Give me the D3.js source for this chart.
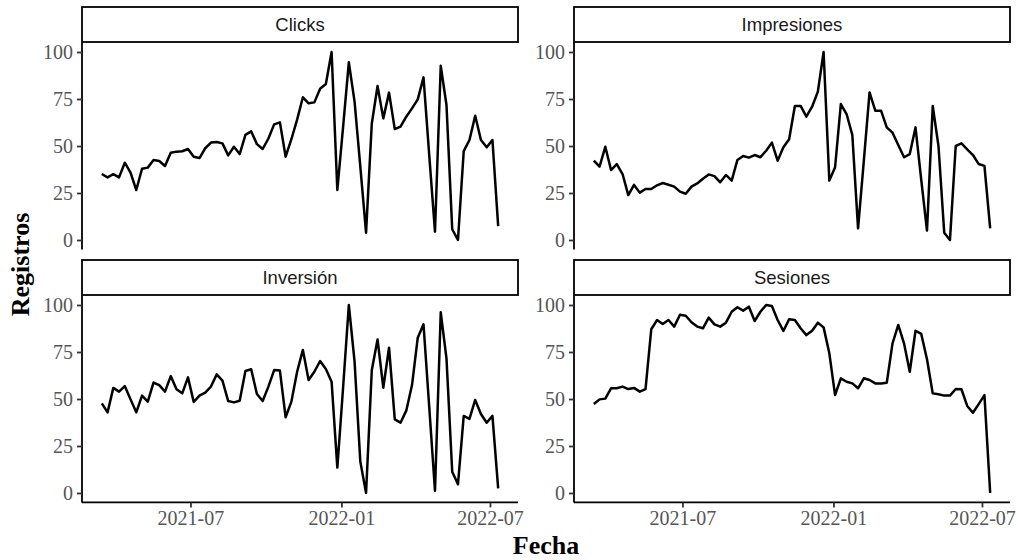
<!DOCTYPE html>
<html>
<head>
<meta charset="utf-8">
<script src="https://cdn.jsdelivr.net/npm/d3@7"></script>
<style>
  html, body { margin: 0; padding: 0; background: #fff; }
  svg { display: block; }
</style>
</head>
<body>
<svg id="chart" width="1018" height="560"></svg>
<script>
// ---- Data (weekly, starting Monday 2021-03-15) ----
const startDate = "2021-03-15";
const nWeeks = 70;
const panelNames = ["Clicks", "Impresiones", "Inversión", "Sesiones"];
const clicks = [35.1,33.3,35,33.3,41.1,35.8,26.6,37.9,38.5,42.5,42,39.4,46.4,47,47.2,48.4,44.3,43.6,48.8,51.8,52.1,51.4,45,49.6,45.7,55.9,57.8,51,48.4,54,61.5,62.6,44.3,53.6,64,75.9,72.7,73.2,80.5,83,100,26.6,60,94.5,73.6,39,3.9,62,81.9,64.7,78.4,59,60.3,65.6,70,74.8,86.5,45,4.4,92.7,71.8,5.7,0,47.3,53.2,66.1,53.2,49.3,53.2,7.4];
const impresiones = [42.2,39,49.6,37.2,40.4,35.1,23.9,29.3,25.2,27.1,27.1,29.1,30.3,29.4,28.4,25.7,24.6,28.4,30.1,32.6,34.9,34,30.7,34.6,31.6,42.6,44.7,43.8,45.2,44,47.5,51.8,42.2,49.3,53.6,71.3,71.3,65.6,70.9,78.9,100,31.6,38.7,72.3,67,55.9,6.2,42,78.5,68.8,68.8,59.9,57.1,50.5,44,45.7,59.9,32,5,71.3,50,3.9,0,50,51.4,48.2,45.2,40.4,39.4,6.2];
const inversion = [47.7,42.9,55.9,53.9,56.9,49.8,42.9,51.8,48.6,58.7,57.4,53.9,62.2,55.2,53,61.5,48.4,51.8,53.4,56.6,63.1,59.8,48.9,48.2,49.1,64.9,65.8,52.7,48.9,56.6,65.4,65.1,40.3,48.6,64.5,76.1,60.1,64.5,70.2,66,59.2,13.5,56,100,69.9,16.7,0,65.4,81.7,56,77.3,39.2,37.4,43.8,57.4,82.6,89.7,45.6,1.2,96.1,71.6,11.3,4.6,41,39.4,49.5,42,37.4,41,2.5];
const sesiones = [47.3,49.8,50.2,55.7,55.7,56.6,55.3,55.9,53.9,55.3,87.1,92,89.9,92,88.5,94.8,94.3,90.8,88.5,87.6,93.3,89.7,88.5,90.6,96.4,98.8,97,99.1,91.5,96.4,100,99.5,92,86.2,92.4,92,87.6,84,86.3,90.6,88.1,74.3,52.1,61,59.2,58.3,55.7,61,60.1,58.3,58.3,58.7,79.6,89.4,79.6,64.5,86.3,84.6,71.1,53,52.5,51.8,51.8,55.3,55.2,46.3,42.7,47.3,52.1,0];
const yTicks = [0, 25, 50, 75, 100];
const xTickLabels = ["2021-07", "2022-01", "2022-07"];
const xTitle = "Fecha";
const yTitle = "Registros";

// ---- Build ----
const parse = d3.timeParse("%Y-%m-%d");
const t0 = parse(startDate);
const dates = d3.range(nWeeks).map(i => d3.timeDay.offset(t0, 7 * i));
const seriesList = [clicks, impresiones, inversion, sesiones];

const svg = d3.select("#chart");
const colX = [82, 574];
const panelW = 436;
const stripTop = [7, 260];
const stripH = 35;
const panelTop = [42.6, 295.6];
const panelH = 206.8;

const [dMin, dMax] = d3.extent(dates);
const span = dMax - dMin;
const xDomain = [new Date(+dMin - span * 0.05), new Date(+dMax + span * 0.05)];
const xTickDates = xTickLabels.map(s => d3.timeParse("%Y-%m")(s));

panelNames.forEach((name, k) => {
  const col = k % 2, row = Math.floor(k / 2);
  const x0 = colX[col];
  const top = panelTop[row];
  const vals = seriesList[k];
  const ext = d3.extent(vals);
  const pad = (ext[1] - ext[0]) * 0.05;

  const x = d3.scaleTime().domain(xDomain).range([x0, x0 + panelW]);
  const y = d3.scaleLinear().domain([ext[0] - pad, ext[1] + pad]).range([top + panelH, top]);

  const g = svg.append("g");

  // strip
  g.append("rect")
    .attr("x", x0).attr("y", stripTop[row])
    .attr("width", panelW).attr("height", stripH)
    .attr("fill", "#fff").attr("stroke", "#000").attr("stroke-width", 1.8);
  g.append("text")
    .attr("x", x0 + panelW / 2).attr("y", stripTop[row] + stripH / 2)
    .attr("dy", "0.35em").attr("text-anchor", "middle")
    .attr("font-family", "'Liberation Sans', Arial, sans-serif")
    .attr("font-size", 18.5).attr("fill", "#1a1a1a")
    .text(name);

  // data line
  const data = dates.map((d, i) => ({ d, v: vals[i] }));
  g.append("path")
    .datum(data)
    .attr("fill", "none").attr("stroke", "#000").attr("stroke-width", 2.5)
    .attr("stroke-linejoin", "round")
    .attr("d", d3.line().x(p => x(p.d)).y(p => y(p.v)));

  // y axis
  const ya = g.append("g").attr("transform", `translate(${x0},0)`)
    .call(d3.axisLeft(y).tickValues(yTicks).tickSize(5).tickPadding(4).tickFormat(d3.format("d")));
  ya.select(".domain").attr("stroke", "#000").attr("stroke-width", 1.8)
    .attr("d", `M0,${top + panelH}V${top}`);
  ya.selectAll(".tick line").attr("stroke", "#333").attr("stroke-width", 1.8);
  ya.selectAll(".tick text")
    .attr("font-family", "'Liberation Serif', 'Times New Roman', serif")
    .attr("font-size", 20).attr("fill", "#555");

  // x axis only on bottom row
  if (row === 1) {
    const xa = g.append("g").attr("transform", `translate(0,${top + panelH})`)
      .call(d3.axisBottom(x).tickValues(xTickDates).tickSize(5).tickPadding(3).tickFormat(d3.timeFormat("%Y-%m")));
    xa.select(".domain").attr("stroke", "#000").attr("stroke-width", 1.8)
      .attr("d", `M${x0},0H${x0 + panelW}`);
    xa.selectAll(".tick line").attr("stroke", "#333").attr("stroke-width", 1.8);
    xa.selectAll(".tick text")
      .attr("font-family", "'Liberation Serif', 'Times New Roman', serif")
      .attr("font-size", 20).attr("fill", "#555");
  }
});

// axis titles
svg.append("text")
  .attr("x", (colX[0] + colX[1] + panelW) / 2).attr("y", 554)
  .attr("text-anchor", "middle")
  .attr("font-family", "'Liberation Serif', 'Times New Roman', serif")
  .attr("font-weight", "bold").attr("font-size", 26).attr("fill", "#000")
  .text(xTitle);
svg.append("text")
  .attr("transform", `translate(29,${(panelTop[0] + panelTop[1] + panelH) / 2 - 8}) rotate(-90)`)
  .attr("text-anchor", "middle")
  .attr("font-family", "'Liberation Serif', 'Times New Roman', serif")
  .attr("font-weight", "bold").attr("font-size", 26).attr("fill", "#000")
  .text(yTitle);
</script>
</body>
</html>
